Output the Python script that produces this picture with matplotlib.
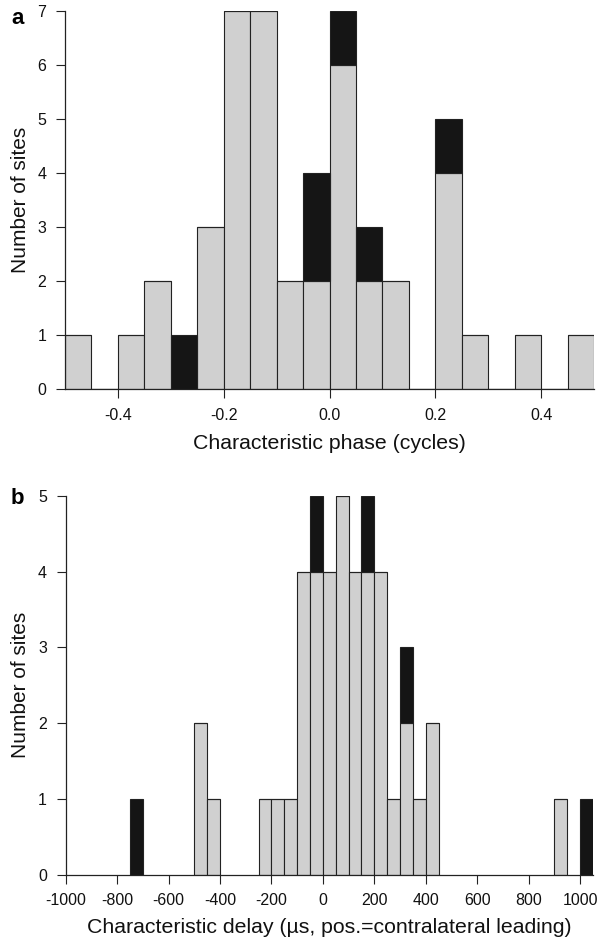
import matplotlib
matplotlib.use("Agg")
import matplotlib.pyplot as plt
import numpy as np

plt.rcParams['font.family'] = ['Liberation Sans', 'DejaVu Sans']
plt.rcParams['axes.unicode_minus'] = False

# Panel a: characteristic phase (cycles), bins of width 0.05
phase_bin_left = [-0.50, -0.45, -0.40, -0.35, -0.30, -0.25, -0.20, -0.15, -0.10, -0.05,
                  0.00, 0.05, 0.10, 0.15, 0.20, 0.25, 0.30, 0.35, 0.40, 0.45]
phase_gray = [1, 0, 1, 2, 0, 3, 7, 7, 2, 2, 6, 2, 2, 0, 4, 1, 0, 1, 0, 1]
phase_black = [0, 0, 0, 0, 1, 0, 0, 0, 0, 2, 1, 1, 0, 0, 1, 0, 0, 0, 0, 0]
phase_width = 0.05
phase_xticks = [-0.4, -0.2, 0.0, 0.2, 0.4]
phase_xticklabels = ['-0.4', '-0.2', '0.0', '0.2', '0.4']
phase_yticks = [0, 1, 2, 3, 4, 5, 6, 7]

# Panel b: characteristic delay (us), bins of width 50
delay_bin_left = [-750, -500, -450, -250, -200, -150, -100, -50, 0, 50, 100, 150, 200,
                  250, 300, 350, 400, 900, 1000]
delay_gray = [0, 2, 1, 1, 1, 1, 4, 4, 4, 5, 4, 4, 4, 1, 2, 1, 2, 1, 0]
delay_black = [1, 0, 0, 0, 0, 0, 0, 1, 0, 0, 0, 1, 0, 0, 1, 0, 0, 0, 1]
delay_width = 50
delay_xticks = [-1000, -800, -600, -400, -200, 0, 200, 400, 600, 800, 1000]
delay_xticklabels = ['-1000', '-800', '-600', '-400', '-200', '0', '200', '400', '600',
                     '800', '1000']
delay_yticks = [0, 1, 2, 3, 4, 5]

GRAY = '#d0d0d0'
BLACK = '#151515'
EDGE = '#222222'
W, H = 610, 950

fig = plt.figure(figsize=(6.1, 9.5), dpi=100)

def style(ax, xlim, ylim, xticks, yticks):
    ax.set_xlim(*xlim)
    ax.set_ylim(*ylim)
    for s in ['top', 'right']:
        ax.spines[s].set_visible(False)
    ax.spines['left'].set_bounds(ylim[0], ylim[1])
    ax.spines['left'].set_linewidth(0.9)
    ax.spines['bottom'].set_linewidth(0.9)
    ax.spines['left'].set_color(EDGE)
    ax.spines['bottom'].set_color(EDGE)
    ax.set_xticks(xticks)
    ax.set_yticks(yticks)
    ax.tick_params(axis='both', length=6.5, width=0.8, color=EDGE,
                   labelsize=11.5, pad=7, labelcolor='#111111')
    ax.margins(0)

# panel a
ax1 = fig.add_axes([65 / W, 1 - 389 / H, (594 - 65) / W, (389 - 10.7) / H])
ax1.bar(phase_bin_left, phase_gray, width=phase_width, align='edge', color=GRAY,
        edgecolor=EDGE, linewidth=0.8)
ax1.bar(phase_bin_left, phase_black, bottom=phase_gray, width=phase_width, align='edge',
        color=BLACK, edgecolor=EDGE, linewidth=0.8)
style(ax1, (-0.5, 0.5), (0, 7), phase_xticks, phase_yticks)
ax1.set_xticklabels(phase_xticklabels)
ax1.set_xlabel('Characteristic phase (cycles)', fontsize=15.3, labelpad=8, color='#111111')
ax1.set_ylabel('Number of sites', fontsize=15, labelpad=5.5, color='#111111')
fig.text(11 / W, 1 - 18 / H, 'a', fontsize=16, fontweight='bold', va='center', ha='left')

# panel b
ax2 = fig.add_axes([65.7 / W, 1 - 874.7 / H, (592.9 - 65.7) / W, (874.7 - 496) / H])
ax2.bar(delay_bin_left, delay_gray, width=delay_width, align='edge', color=GRAY,
        edgecolor=EDGE, linewidth=0.8)
ax2.bar(delay_bin_left, delay_black, bottom=delay_gray, width=delay_width, align='edge',
        color=BLACK, edgecolor=EDGE, linewidth=0.8)
style(ax2, (-1000, 1050), (0, 5), delay_xticks, delay_yticks)
ax2.set_xticklabels(delay_xticklabels)
ax2.set_xlabel('Characteristic delay (\u00b5s, pos.=contralateral leading)', fontsize=15.3,
               labelpad=7, color='#111111')
ax2.set_ylabel('Number of sites', fontsize=15, labelpad=5.5, color='#111111')
fig.text(11 / W, 1 - 498 / H, 'b', fontsize=16, fontweight='bold', va='center', ha='left')

fig.savefig('out.png', dpi=100)
